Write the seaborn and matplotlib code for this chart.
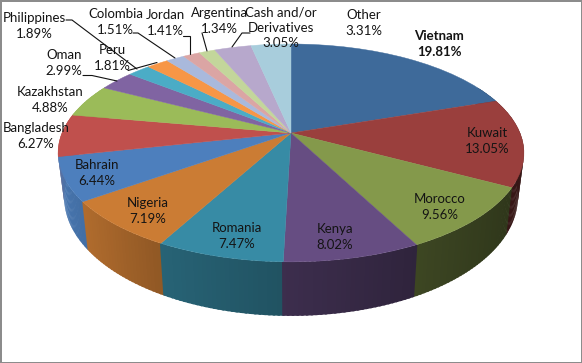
import numpy as np
import matplotlib
matplotlib.use("Agg")
import matplotlib.pyplot as plt
import matplotlib.colors as mc
from matplotlib.collections import PolyCollection
from matplotlib.transforms import Transform
import seaborn as sns

# ---- data ----
countries = ["Vietnam", "Kuwait", "Morocco", "Kenya", "Romania", "Nigeria", "Bahrain",
             "Bangladesh", "Kazakhstan", "Oman", "Philippines", "Peru", "Colombia",
             "Jordan", "Argentina", "Cash and/or\nDerivatives", "Other"]
shares = [19.81, 13.05, 9.56, 8.02, 7.47, 7.19, 6.44, 6.27, 4.88, 2.99, 1.89, 1.81,
          1.51, 1.41, 1.34, 3.05, 3.31]
slice_colors = ["#3e6a9a", "#9a3f3d", "#84994b", "#664d82", "#378ba5", "#cb7c34", "#4d7fbd",
                "#c0504d", "#9bbb59", "#8064a2", "#4bacc6", "#f79646", "#a9b9dc",
                "#dba5a4", "#c3d69b", "#b7a8cc", "#a8cddc"]

# ---- layout (pixels) ----
label_pos = [(439, 44), (487, 141), (440, 207), (335, 237), (237, 236), (148, 211), (97, 173),
             (36, 136), (50, 100), (64, 63), (34, 26), (112, 58), (115.5, 22),
             (165, 23), (219.5, 21), (281, 28), (364, 23)]
leaders = [[(66, 20), (72, 20), (137, 69)],
           [(133, 33), (138, 33), (175, 58)],
           [(183, 36), (190, 36), (190, 54)],
           [(202, 33), (207, 51)],
           [(250, 33), (242, 33), (232, 47)],
           [(128, 70.5), (157, 62.5)],
           [(83, 75.5), (92, 75.5), (117, 81)]]

W, H = 582, 363
CX, CY = 291.0, 133.0
A, B, K = 229.0, 105.3, 0.183
SX, SY, CY2 = 0.974, 1.09, 175.4


def top_face(x, y):
    w = 1 + K * y
    return CX + A * x / w, CY - B * y / w


def bottom_face(x, y):
    w = 1 + K * y
    return CX + SX * A * x / w, CY2 - SY * B * y / w


class TiltedDisk(Transform):
    input_dims = output_dims = 2

    def transform_non_affine(self, values):
        v = np.asarray(values, dtype=float)
        px, py = top_face(v[:, 0], v[:, 1])
        return np.column_stack([px, py])


sns.set_theme(style="white")
plt.rcParams["font.family"] = ["Lato", "DejaVu Sans"]
palette = sns.color_palette(slice_colors)

fig = plt.figure(figsize=(W / 100, H / 100), dpi=100, facecolor="white",
                 edgecolor="#8c8c8c", linewidth=2.0)
ax = fig.add_axes([0, 0, 1, 1])
wedges, _ = ax.pie(shares, colors=palette, startangle=90, counterclock=False, radius=1.0,
                   wedgeprops={"linewidth": 0.3})
ax.set_aspect("auto")
ax.set_xlim(0, W)
ax.set_ylim(H, 0)
ax.set_axis_off()

disk = TiltedDisk() + ax.transData
for wd, col in zip(wedges, palette):
    wd.set_transform(disk)
    wd.set_edgecolor(col)
    wd.set_zorder(3)

# side wall, painted back to front in thin shaded strips
strips = []
for wd, col in zip(wedges, palette):
    n = max(2, int(np.ceil(wd.theta2 - wd.theta1)) + 1)
    edges = np.linspace(wd.theta1, wd.theta2, n)
    rgb = np.array(mc.to_rgb(col))
    for t0, t1 in zip(edges[:-1], edges[1:]):
        th = np.radians([t0 - 0.25, t1 + 0.25])
        x, y = np.cos(th), np.sin(th)
        if y.min() > 0.45:
            continue
        tx, ty = top_face(x, y)
        bx, by = bottom_face(x, y)
        shade = np.interp(x.mean(), [-1, -0.7, -0.5, -0.05, 0.5, 1], [0.95, 0.82, 0.72, 0.60, 0.45, 0.33])
        quad = [(tx[0], ty[0]), (tx[1], ty[1]), (bx[1], by[1]), (bx[0], by[0])]
        strips.append((y.mean(), quad, tuple(rgb * shade)))
strips.sort(key=lambda s: -s[0])
ax.add_collection(PolyCollection([s[1] for s in strips], facecolors=[s[2] for s in strips],
                                 edgecolors="none", linewidths=0, zorder=1))

# labels and leader lines
for name, val, (lx, ly) in zip(countries, shares, label_pos):
    bold = name == "Vietnam"
    ax.text(lx, ly, f"{name}\n{val:.2f}%", ha="center", va="center", fontsize=9.5,
            linespacing=1.32, color="#141414", fontweight="bold" if bold else "normal", zorder=5)
for pts in leaders:
    xs, ys = zip(*pts)
    ax.plot(xs, ys, color="#111111", lw=0.8, zorder=4, solid_joinstyle="miter")

fig.savefig("out.png", dpi=100)
